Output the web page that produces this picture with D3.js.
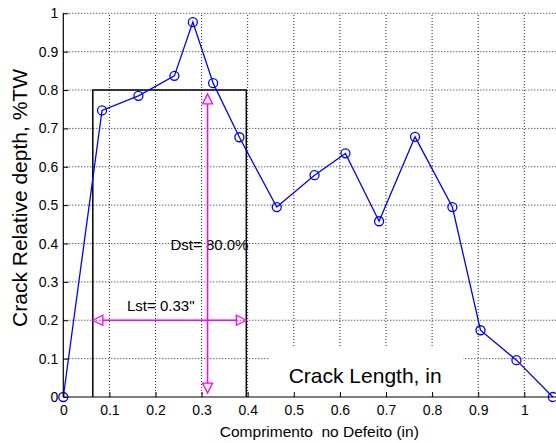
<!DOCTYPE html>
<html><head><meta charset="utf-8">
<script src="https://cdn.jsdelivr.net/npm/d3@7"></script>
<style>
html,body{margin:0;padding:0;background:#fff;}
svg{display:block;font-family:"Liberation Sans",Arial,sans-serif;}
</style></head>
<body>
<svg id="chart" width="556" height="443"></svg>
<script>
// ---- data ----
const crackX = [0, 0.084, 0.163, 0.241, 0.281, 0.325, 0.382, 0.463, 0.545, 0.612, 0.685, 0.763, 0.844, 0.905, 0.983, 1.062];
const crackY = [0, 0.747, 0.785, 0.837, 0.977, 0.818, 0.677, 0.495, 0.578, 0.635, 0.458, 0.678, 0.495, 0.174, 0.096, 0];
const xTicks = [0, 0.1, 0.2, 0.3, 0.4, 0.5, 0.6, 0.7, 0.8, 0.9, 1];
const xTickLabels = ["0", "0.1", "0.2", "0.3", "0.4", "0.5", "0.6", "0.7", "0.8", "0.9", "1"];
const yTicks = [0, 0.1, 0.2, 0.3, 0.4, 0.5, 0.6, 0.7, 0.8, 0.9, 1];
const yTickLabels = ["0", "0.1", "0.2", "0.3", "0.4", "0.5", "0.6", "0.7", "0.8", "0.9", "1"];
const rectX = [0.064, 0.397];   // standard length box
const rectTop = 0.8;            // Dst
const lstY = 0.2;               // horizontal arrow level
const dstX = 0.313;             // vertical arrow position
const dstRange = [0.01, 0.79];
const dstLabel = "Dst= 80.0%";
const lstLabel = "Lst= 0.33\"";
const yLabel = "Crack Relative depth, %TW";
const xLabel = "Comprimento  no Defeito (in)";
const innerLabel = "Crack Length, in";

// ---- scales ----
const W = 556, H = 443;
const x = d3.scaleLinear().domain([0, 1]).range([63.3, 524.3]);
const y = d3.scaleLinear().domain([0, 1]).range([397, 13.3]);
const svg = d3.select("#chart");
const magenta = "#ff00ff";

// grid
const grid = svg.append("g");
grid.selectAll("line.h").data(yTicks.slice(1)).join("line")
  .attr("x1", x(0)).attr("x2", W).attr("y1", d => y(d)).attr("y2", d => y(d))
  .attr("stroke", "#222").attr("stroke-width", 1).attr("stroke-dasharray", "1,2");
grid.selectAll("line.v").data(xTicks.slice(1)).join("line")
  .attr("y1", y(0)).attr("y2", y(1)).attr("x1", d => x(d)).attr("x2", d => x(d))
  .attr("stroke", "#222").attr("stroke-width", 1).attr("stroke-dasharray", "1,2");

// standard box
svg.append("path")
  .attr("d", `M${x(rectX[0])},${y(0)}V${y(rectTop)}H${x(rectX[1])}V${y(0)}`)
  .attr("fill", "none").attr("stroke", "#000").attr("stroke-width", 1.5);

// text labels inside
svg.append("text").attr("x", 170.5).attr("y", 250).attr("font-size", 15).text(dstLabel);
svg.append("text").attr("x", 127).attr("y", 310.5).attr("font-size", 15).text(lstLabel);

// arrows
const tri = 10, half = 5;
// horizontal
const hx0 = x(rectX[0]), hx1 = x(rectX[1]), hy = y(lstY);
svg.append("line").attr("x1", hx0 + tri).attr("x2", hx1 - tri).attr("y1", hy).attr("y2", hy)
  .attr("stroke", magenta).attr("stroke-width", 1.5);
svg.append("path").attr("d", `M${hx0},${hy}L${hx0 + tri},${hy - half}L${hx0 + tri},${hy + half}Z`)
  .attr("fill", "none").attr("stroke", magenta).attr("stroke-width", 1.3);
svg.append("path").attr("d", `M${hx1},${hy}L${hx1 - tri},${hy - half}L${hx1 - tri},${hy + half}Z`)
  .attr("fill", "none").attr("stroke", magenta).attr("stroke-width", 1.3);
// vertical
const vx = x(dstX), vy0 = y(dstRange[0]), vy1 = y(dstRange[1]);
svg.append("line").attr("x1", vx).attr("x2", vx).attr("y1", vy1 + tri).attr("y2", vy0 - tri)
  .attr("stroke", magenta).attr("stroke-width", 1.5);
svg.append("path").attr("d", `M${vx},${vy1}L${vx - half},${vy1 + tri}L${vx + half},${vy1 + tri}Z`)
  .attr("fill", "none").attr("stroke", magenta).attr("stroke-width", 1.3);
svg.append("path").attr("d", `M${vx},${vy0}L${vx - half},${vy0 - tri}L${vx + half},${vy0 - tri}Z`)
  .attr("fill", "none").attr("stroke", magenta).attr("stroke-width", 1.3);

// data line
const pts = crackX.map((d, i) => [d, crackY[i]]);
svg.append("path").datum(pts)
  .attr("d", d3.line().x(d => x(d[0])).y(d => y(d[1])))
  .attr("fill", "none").attr("stroke", "#0000ff").attr("stroke-width", 1.3);
svg.selectAll("circle.m").data(pts).join("circle")
  .attr("cx", d => x(d[0])).attr("cy", d => y(d[1])).attr("r", 4.5)
  .attr("fill", "none").attr("stroke", "#0000ff").attr("stroke-width", 1.3);

// inner label with white background
svg.append("rect").attr("x", 270).attr("y", 348).attr("width", 193).attr("height", 48.5).attr("fill", "#fff");
svg.append("text").attr("x", 288.7).attr("y", 382.5).attr("font-size", 21).text(innerLabel);

// axes
const xAxis = svg.append("g").attr("transform", `translate(0,${y(0)})`)
  .call(d3.axisBottom(x).tickValues(xTicks).tickFormat((d, i) => xTickLabels[i]).tickSize(-5).tickPadding(8.5));
xAxis.select(".domain").remove();
xAxis.selectAll("text").attr("font-size", 14).attr("font-family", "Liberation Sans, Arial, sans-serif").attr("fill", "#000");
xAxis.selectAll("line").attr("stroke", "#000");
const yAxis = svg.append("g").attr("transform", `translate(${x(0)},0)`)
  .call(d3.axisLeft(y).tickValues(yTicks).tickFormat((d, i) => yTickLabels[i]).tickSize(-5).tickPadding(5));
yAxis.select(".domain").remove();
yAxis.selectAll("text").attr("font-size", 14).attr("font-family", "Liberation Sans, Arial, sans-serif").attr("fill", "#000");
yAxis.selectAll("line").attr("stroke", "#000");
svg.append("line").attr("x1", x(0)).attr("x2", W).attr("y1", y(0)).attr("y2", y(0)).attr("stroke", "#000").attr("stroke-width", 1.2);
svg.append("line").attr("x1", x(0)).attr("x2", x(0)).attr("y1", y(0)).attr("y2", y(1)).attr("stroke", "#000").attr("stroke-width", 1.2);

// axis titles
svg.append("text").attr("transform", "translate(26.5,198) rotate(-90)")
  .attr("text-anchor", "middle").attr("font-size", 21).text(yLabel);
svg.append("text").attr("x", 319.3).attr("y", 436.5).attr("text-anchor", "middle")
  .attr("font-size", 15.5).style("white-space", "pre").text(xLabel);
</script>
</body></html>
